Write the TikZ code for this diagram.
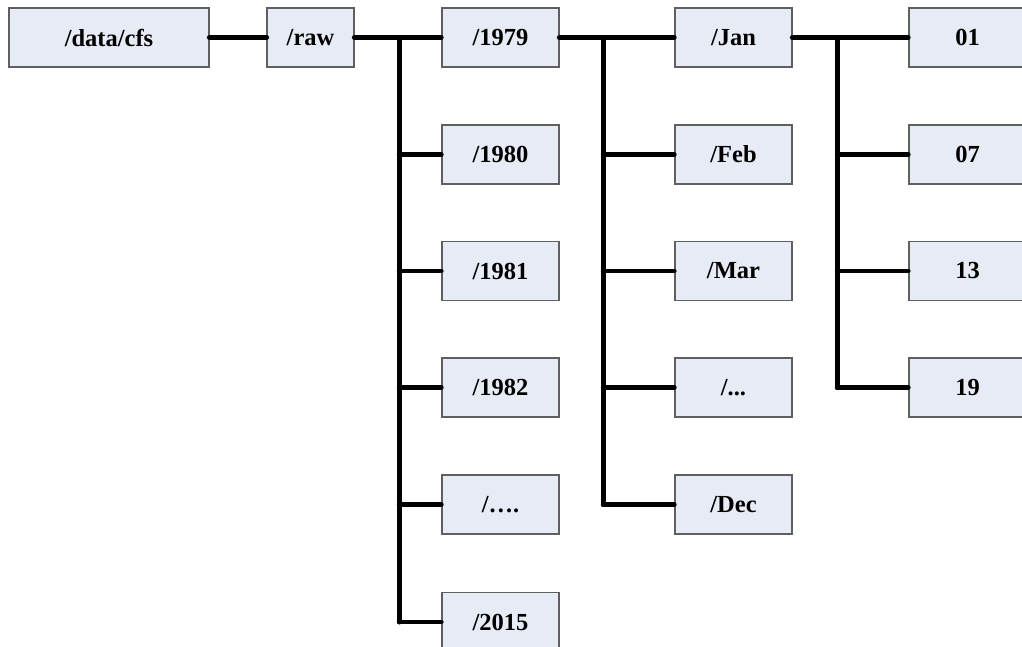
\documentclass[tikz,border=0pt]{standalone}
\usepackage{fontspec}
\setmainfont{Liberation Serif}
\definecolor{boxfill}{RGB}{231,235,245}
\definecolor{boxline}{RGB}{95,95,95}
\begin{document}
\begin{tikzpicture}[x=1pt,y=-1pt,
  dirbox/.style={draw=boxline, fill=boxfill, line width=1.2pt, inner sep=0pt,
    minimum height=59pt, font=\fontsize{24.5}{28}\selectfont\bfseries},
  wide/.style={dirbox, minimum width=200pt},
  narrow/.style={dirbox, minimum width=87pt},
  col/.style={dirbox, minimum width=117pt},
  stub/.style={line width=5.5pt, line cap=round},
  trunk/.style={line width=5pt, line cap=round, line join=round},
  branch/.style={line width=4.5pt, line cap=round, line join=round}]
\clip (0,0) rectangle (1022,647);
\fill[white] (0,0) rectangle (1022,647);

% root and first level
\node[wide]   (root) at (109,37.5) {/data/cfs};
\node[narrow] (raw)  at (310.5,37.5) {/raw};

% years
\node[col] (y1979) at (500.5,37.5)  {/1979};
\node[col] (y1980) at (500.5,154.5) {/1980};
\node[col] (y1981) at (500.5,271)   {/1981};
\node[col] (y1982) at (500.5,387.5) {/1982};
\node[col] (ydots) at (500.5,504.5) {/….};
\node[col] (y2015) at (500.5,622)   {/2015};

% months
\node[col] (jan) at (733.5,37.5)  {/Jan};
\node[col] (feb) at (733.5,154.5) {/Feb};
\node[col] (mar) at (733.5,271)   {/Mar};
\node[col] (mdots) at (733.5,387.5) {/...};
\node[col] (dec) at (733.5,504.5) {/Dec};

% days
\node[col] (d01) at (967.5,37.5)  {01};
\node[col] (d07) at (967.5,154.5) {07};
\node[col] (d13) at (967.5,271)   {13};
\node[col] (d19) at (967.5,387.5) {19};

% junction points on the trunks
\coordinate (tr1) at (399,37.5);
\coordinate (tr2) at (603,37.5);
\coordinate (tr3) at (837,37.5);

% root to /raw
\draw[stub] (root.east) -- (raw.west);

% /raw to years
\draw[stub] (raw.east) -- (tr1);
\draw[trunk] (tr1) -- (tr1 |- y2015.west);
\foreach \n in {y1979,y1980,y1981,y1982,ydots}
  \draw[branch] (tr1 |- \n.west) -- (\n.west);
\draw[branch] (tr1 |- y2015.west) -- (y2015.west);

% /1979 to months
\draw[stub] (y1979.east) -- (tr2);
\draw[trunk] (tr2) -- (tr2 |- dec.west);
\foreach \n in {jan,feb,mar,mdots,dec}
  \draw[branch] (tr2 |- \n.west) -- (\n.west);

% /Jan to days
\draw[stub] (jan.east) -- (tr3);
\draw[trunk] (tr3) -- (tr3 |- d19.west);
\foreach \n in {d01,d07,d13,d19}
  \draw[branch] (tr3 |- \n.west) -- (\n.west);
\end{tikzpicture}
\end{document}
